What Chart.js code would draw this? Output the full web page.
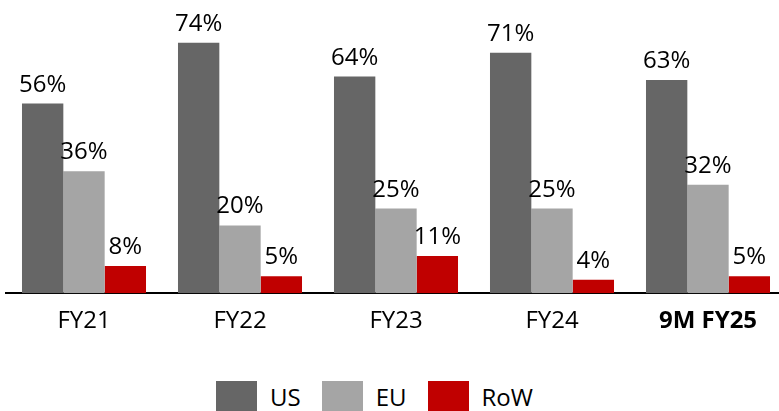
<!DOCTYPE html>
<html>
<head>
<meta charset="utf-8">
<script src="https://cdn.jsdelivr.net/npm/chart.js@4"></script>
<style>
  html, body { margin: 0; padding: 0; background: #fff; overflow: hidden; }
  body { width: 779px; height: 411px; position: relative; }
  #wrap { width: 786px; height: 350px; position: absolute; left: 0; top: 0; }
  #legend { position: absolute; left: 216px; top: 380px; display: flex; align-items: center;
            font-family: 'Open Sans', 'Liberation Sans', sans-serif; font-size: 24px; color: #000; }
  #legend .item { display: flex; align-items: center; margin-right: 21px; }
  #legend .box { width: 41px; height: 31px; margin-right: 13px; }
</style>
</head>
<body>
<div id="wrap"><canvas id="regionChart"></canvas></div>
<div id="legend"></div>
<script>
// categories and values (% of revenue)
const periods = ['FY21', 'FY22', 'FY23', 'FY24', '9M FY25'];
const usShare = [56, 74, 64, 71, 63];
const euShare = [36, 20, 25, 25, 32];
const rowShare = [8, 5, 11, 4, 5];

const FONT = "'Open Sans', 'Liberation Sans', sans-serif";

// draw the % labels above each bar
const barLabels = {
  id: 'barLabels',
  afterDatasetsDraw(chart) {
    const ctx = chart.ctx;
    ctx.save();
    ctx.font = '24px ' + FONT;
    ctx.fillStyle = '#000';
    ctx.textAlign = 'center';
    ctx.textBaseline = 'alphabetic';
    chart.data.datasets.forEach((ds, i) => {
      chart.getDatasetMeta(i).data.forEach((bar, j) => {
        ctx.fillText(ds.data[j] + '%', bar.x, bar.y - 12);
      });
    });
    ctx.restore();
  }
};

const chart = new Chart(document.getElementById('regionChart'), {
  type: 'bar',
  data: {
    labels: periods,
    datasets: [
      { label: 'US', data: usShare, backgroundColor: '#666666' },
      { label: 'EU', data: euShare, backgroundColor: '#a5a5a5' },
      { label: 'RoW', data: rowShare, backgroundColor: '#c00000' }
    ]
  },
  options: {
    responsive: true,
    maintainAspectRatio: false,
    animation: false,
    layout: { padding: { left: 6, right: 0, top: 0, bottom: 0 } },
    datasets: { bar: { categoryPercentage: 0.795, barPercentage: 1.0 } },
    scales: {
      x: {
        grid: { display: false, drawTicks: false },
        border: { display: true, color: '#000', width: 2 },
        ticks: {
          color: '#000',
          padding: 14,
          font: (c) => ({ family: FONT, size: 24, weight: c.index === 4 ? 'bold' : 'normal' })
        }
      },
      y: {
        display: false,
        min: 0,
        max: 86.6
      }
    },
    plugins: {
      legend: { display: false },
      tooltip: { enabled: false }
    }
  },
  plugins: [barLabels]
});

// legend built from the datasets
const legendEl = document.getElementById('legend');
chart.data.datasets.forEach((ds) => {
  const item = document.createElement('div');
  item.className = 'item';
  item.innerHTML = '<span class="box" style="background:' + ds.backgroundColor + '"></span><span>' + ds.label + '</span>';
  legendEl.appendChild(item);
});
</script>
</body>
</html>
